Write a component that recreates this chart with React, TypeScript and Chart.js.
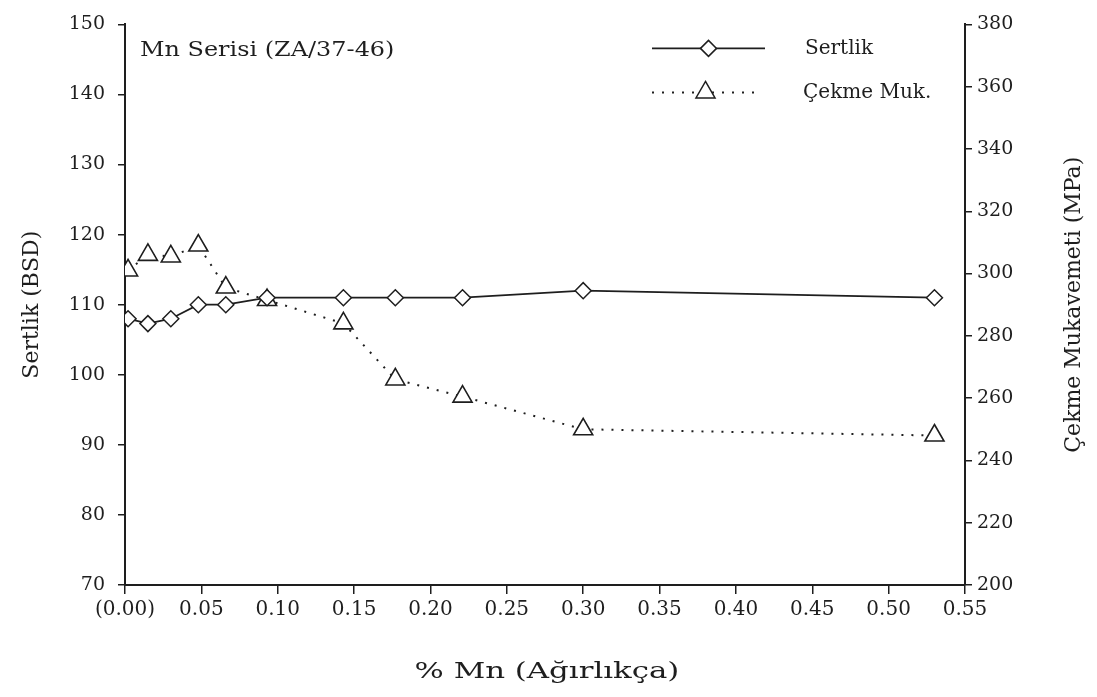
import React, { useEffect, useRef } from "react";
import { Chart, registerables } from "chart.js";

Chart.register(...registerables);

// ---- Data ----
const mnContent = [0.002, 0.015, 0.03, 0.048, 0.066, 0.093, 0.143, 0.177, 0.221, 0.3, 0.53];
const sertlik = [108, 107.3, 108, 110, 110, 111, 111, 111, 111, 112, 111];
const cekme = [301, 306, 305.5, 309, 295.5, 291.5, 284, 266, 260.5, 250, 248];

const xTickValues = [0, 0.05, 0.1, 0.15, 0.2, 0.25, 0.3, 0.35, 0.4, 0.45, 0.5, 0.55];
const xTickLabels = ["(0.00)", "0.05", "0.10", "0.15", "0.20", "0.25", "0.30", "0.35", "0.40", "0.45", "0.50", "0.55"];
const leftTickValues = [70, 80, 90, 100, 110, 120, 130, 140, 150];
const rightTickValues = [200, 220, 240, 260, 280, 300, 320, 340, 360, 380];

const seriesNames = ["Sertlik", "Çekme Muk."];
const annotationText = "Mn Serisi (ZA/37-46)";
const xTitle = "% Mn (Ağırlıkça)";
const leftTitle = "Sertlik (BSD)";
const rightTitle = "Çekme Mukavemeti (MPa)";

const INK = "#1e1e1e";
const FONT = "'DejaVu Serif', 'Liberation Serif', serif";

const overlayPlugin = {
  id: "overlay",
  afterDraw(chart: any) {
    const ctx = chart.ctx as CanvasRenderingContext2D;
    const area = chart.chartArea;
    ctx.save();
    ctx.fillStyle = INK;
    ctx.strokeStyle = INK;

    // annotation (slightly wide lettering as in the scan)
    ctx.save();
    ctx.font = `21px ${FONT}`;
    ctx.textAlign = "left";
    ctx.textBaseline = "middle";
    ctx.translate(area.left + 15, area.top + 26);
    ctx.scale(1.14, 1);
    ctx.fillText(annotationText, 0, 0);
    ctx.restore();

    // x-axis title (wide lettering)
    ctx.save();
    ctx.font = `22px ${FONT}`;
    ctx.textAlign = "center";
    ctx.textBaseline = "middle";
    ctx.translate((area.left + area.right) / 2 + 2, 672);
    ctx.scale(1.4, 1);
    ctx.fillText(xTitle, 0, 0);
    ctx.restore();

    // legend row 1: solid with diamond
    const lx0 = area.left + 527;
    const lx1 = area.left + 640;
    const y1 = area.top + 24;
    const y2 = area.top + 68;
    ctx.lineWidth = 1.8;
    ctx.setLineDash([]);
    ctx.beginPath();
    ctx.moveTo(lx0, y1);
    ctx.lineTo(lx1, y1);
    ctx.stroke();
    const dx = (lx0 + lx1) / 2;
    const dr = 8;
    ctx.beginPath();
    ctx.moveTo(dx - dr, y1);
    ctx.lineTo(dx, y1 - dr);
    ctx.lineTo(dx + dr, y1);
    ctx.lineTo(dx, y1 + dr);
    ctx.closePath();
    ctx.fillStyle = "#fff";
    ctx.fill();
    ctx.lineWidth = 1.5;
    ctx.stroke();

    // legend row 2: dotted with triangle
    ctx.lineWidth = 2;
    ctx.setLineDash([2, 8]);
    ctx.beginPath();
    ctx.moveTo(lx0, y2);
    ctx.lineTo(lx1 - 3, y2);
    ctx.stroke();
    ctx.setLineDash([]);
    const tx = (lx0 + lx1) / 2 - 3;
    const r = 11;
    ctx.beginPath();
    ctx.moveTo(tx, y2 - r);
    ctx.lineTo(tx + r * 0.866, y2 + r * 0.5);
    ctx.lineTo(tx - r * 0.866, y2 + r * 0.5);
    ctx.closePath();
    ctx.fillStyle = "#fff";
    ctx.fill();
    ctx.lineWidth = 1.5;
    ctx.stroke();

    ctx.fillStyle = INK;
    ctx.font = `20px ${FONT}`;
    ctx.textAlign = "left";
    ctx.textBaseline = "middle";
    ctx.fillText(seriesNames[0], area.left + 680, y1);
    ctx.fillText(seriesNames[1], area.left + 678, y2);

    // right axis title (reads bottom to top)
    ctx.font = `22px ${FONT}`;
    ctx.textAlign = "center";
    ctx.translate(1074, (area.top + area.bottom) / 2);
    ctx.rotate(-Math.PI / 2);
    ctx.fillText(rightTitle, 0, 0);
    ctx.restore();
  },
};

export default function App() {
  const canvasRef = useRef<HTMLCanvasElement | null>(null);

  useEffect(() => {
    if (!canvasRef.current) return;
    const tickFont = { family: FONT, size: 19 };
    const chart = new Chart(canvasRef.current, {
      type: "line",
      data: {
        datasets: [
          {
            label: seriesNames[0],
            data: mnContent.map((x, i) => ({ x, y: sertlik[i] })),
            yAxisID: "y",
            borderColor: INK,
            borderWidth: 1.8,
            pointStyle: "rectRot",
            pointRadius: 8,
            pointBackgroundColor: "#fff",
            pointBorderColor: INK,
            pointBorderWidth: 1.5,
            tension: 0,
          },
          {
            label: seriesNames[1],
            data: mnContent.map((x, i) => ({ x, y: cekme[i] })),
            yAxisID: "y2",
            borderColor: INK,
            borderWidth: 2,
            borderDash: [2, 8],
            pointStyle: "triangle",
            pointRadius: 11,
            pointBackgroundColor: "#fff",
            pointBorderColor: INK,
            pointBorderWidth: 1.6,
            tension: 0,
          },
        ],
      },
      options: {
        responsive: false,
        maintainAspectRatio: false,
        animation: false,
        layout: { padding: { top: 20, left: 0, right: 0, bottom: 0 } },
        plugins: {
          legend: { display: false },
          tooltip: { enabled: false },
        },
        scales: {
          x: {
            type: "linear",
            position: "bottom",
            min: 0,
            max: 0.55,
            afterBuildTicks: (s: any) => {
              s.ticks = xTickValues.map((v) => ({ value: v }));
            },
            afterFit: (s: any) => {
              s.height = 112;
            },
            grid: {
              display: true,
              drawOnChartArea: false,
              drawTicks: true,
              tickLength: 9,
              color: INK,
              lineWidth: 1.5,
            },
            border: { display: true, color: INK, width: 2 },
            ticks: {
              color: INK,
              font: { family: FONT, size: 20 },
              padding: 4,
              maxRotation: 0,
              autoSkip: false,
              callback: (_v: any, i: number) => xTickLabels[i],
            },
            title: { display: false },
          },
          y: {
            type: "linear",
            position: "left",
            min: 70,
            max: 150,
            afterBuildTicks: (s: any) => {
              s.ticks = leftTickValues.map((v) => ({ value: v }));
            },
            afterFit: (s: any) => {
              s.width = 125;
            },
            grid: {
              display: true,
              drawOnChartArea: false,
              drawTicks: true,
              tickLength: 7,
              color: INK,
              lineWidth: 1.5,
            },
            border: { display: true, color: INK, width: 2 },
            ticks: {
              color: INK,
              font: tickFont,
              padding: 13,
              autoSkip: false,
              callback: (v: any) => String(v),
            },
            title: {
              display: true,
              text: leftTitle,
              color: INK,
              font: { family: FONT, size: 22 },
              padding: { top: 19, bottom: 0 },
            },
          },
          y2: {
            type: "linear",
            position: "right",
            min: 200,
            max: 380,
            afterBuildTicks: (s: any) => {
              s.ticks = rightTickValues.map((v) => ({ value: v }));
            },
            afterFit: (s: any) => {
              s.width = 132;
            },
            grid: {
              display: true,
              drawOnChartArea: false,
              drawTicks: true,
              tickLength: 7,
              color: INK,
              lineWidth: 1.5,
            },
            border: { display: true, color: INK, width: 2 },
            ticks: {
              color: INK,
              font: tickFont,
              padding: 5,
              autoSkip: false,
              callback: (v: any) => String(v),
            },
          },
        },
      },
      plugins: [overlayPlugin],
    } as any);
    return () => chart.destroy();
  }, []);

  return (
    <div style={{ position: "absolute", left: 0, top: 0, width: 1097, height: 697, background: "#fff" }}>
      <canvas ref={canvasRef} width={1097} height={697} style={{ display: "block", width: 1097, height: 697 }} />
    </div>
  );
}
